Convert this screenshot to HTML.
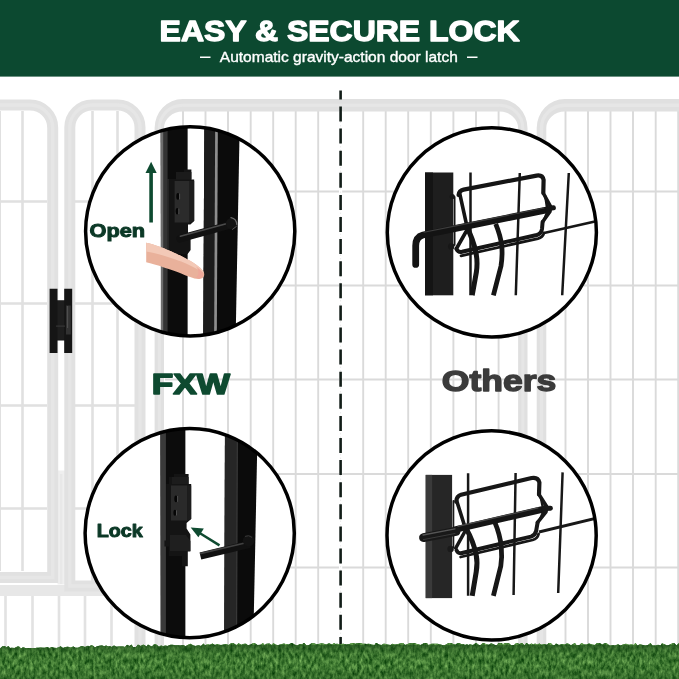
<!DOCTYPE html>
<html>
<head>
<meta charset="utf-8">
<title>Easy &amp; Secure Lock</title>
<style>
html,body{margin:0;padding:0;background:#fff;}
body{width:679px;height:679px;overflow:hidden;position:relative;font-family:"Liberation Sans",sans-serif;}
svg{position:absolute;left:0;top:0;display:block;}
text{font-family:"Liberation Sans",sans-serif;}
</style>
</head>
<body>
<svg width="679" height="679" viewBox="0 0 679 679">
<defs>
  <clipPath id="cTL"><circle cx="190.2" cy="231.3" r="104.6"/></clipPath>
  <clipPath id="cTR"><circle cx="491.85" cy="232.4" r="104.55"/></clipPath>
  <clipPath id="cBL"><circle cx="189.7" cy="533.1" r="104.6"/></clipPath>
  <clipPath id="cBR"><circle cx="491.6" cy="535.45" r="104.6"/></clipPath>
  <filter id="grassF" x="0" y="0" width="100%" height="100%" color-interpolation-filters="sRGB">
    <feTurbulence type="fractalNoise" baseFrequency="0.33 0.17" numOctaves="3" seed="11" result="n"/>
    <feColorMatrix type="matrix" values="0.62 0 0 0 -0.06  0.64 0 0 0 0.155  0.46 0 0 0 -0.035  0 0 0 0 1" in="n"/>
  </filter>
  <linearGradient id="grassShade" x1="0" y1="0" x2="0" y2="1">
    <stop offset="0" stop-color="#1c4a1a" stop-opacity="0.55"/>
    <stop offset="0.25" stop-color="#1c4a1a" stop-opacity="0.1"/>
    <stop offset="0.6" stop-color="#1c4a1a" stop-opacity="0"/>
    <stop offset="1" stop-color="#1c4a1a" stop-opacity="0.25"/>
  </linearGradient>
</defs>

<!-- ============ BACKGROUND ============ -->
<rect x="0" y="0" width="679" height="679" fill="#ffffff"/>

<!-- ============ FENCE ============ -->
<g id="fence" fill="none" stroke-linecap="butt">
  <!-- thin bars panel 1/2 -->
  <g stroke="#e0e0e0" stroke-width="2.6">
    <path d="M-0.3 111V571 M22.5 111V571 M92.5 111V582 M117.5 111V582"/>
    <path d="M0 201.5H47 M75 201.5H135 M0 303.5H47 M75 303.5H135 M0 405.5H47 M75 405.5H135 M0 508.5H47 M75 508.5H135"/>
  </g>
  <!-- thin bars lower back panel -->
  <g stroke="#e2e2e2" stroke-width="2.6">
    <path d="M5.5 595V648 M32.5 595V648 M59 595V648 M85 595V648 M111.5 595V648"/>
  </g>
  <!-- filler between posts -->
  <rect x="57.5" y="470.5" width="7.5" height="114" fill="#efefef" stroke="none"/>
  <rect x="59.8" y="474" width="2.6" height="110" fill="#e8e8e8" stroke="none"/>
  <!-- thin bars panel 3 -->
  <g stroke="#dadada" stroke-width="1.9">
    <path d="M183 111V648 M205.5 111V648 M228 111V648 M250.7 111V648 M273.2 111V648 M295.7 111V648 M318.2 111V648 M340.7 111V648 M363.2 111V648 M385.7 111V648 M408.2 111V648 M430.8 111V648 M453.4 111V648 M476 111V648 M498.6 111V648"/>
    <path d="M165 191.5H517 M165 285.5H517 M165 379.5H517 M165 474H517 M165 567.5H517"/>
  </g>
  <!-- thin bars panel 4 -->
  <g stroke="#dadada" stroke-width="1.9">
    <path d="M565.5 111V648 M588 111V648 M610.5 111V648 M633 111V648 M655.7 111V648 M678.2 111V648"/>
    <path d="M547 191.5H679 M547 285.5H679 M547 379.5H679 M547 474H679 M547 567.5H679"/>
  </g>
  <!-- lower back rail -->
  <rect x="0" y="585" width="140" height="11" fill="#e7e7e7" stroke="none"/>
  <!-- thick frames -->
  <g stroke="#e1e1e1" stroke-width="11" stroke-linejoin="miter">
    <path d="M-10 105H30A22.7 22.7 0 0 1 52.7 127.7V577.5H-10"/>
    <path d="M140 648V127.5A22.5 22.5 0 0 0 117.5 105H92.3A22.5 22.5 0 0 0 69.8 127.5V586H140"/>
  </g>
  <g fill="#e0e0e0" stroke="none">
    <path d="M154.6 648V128A28 29 0 0 1 182.6 99H499.5A28 29 0 0 1 527.5 128V648H518.1V128A18.6 16.4 0 0 0 499.5 111.6H182.6A18.6 16.4 0 0 0 164 128V648Z"/>
    <path d="M536.7 648V128A28 29 0 0 1 564.7 99H700V111.6H564.7A18.4 16.4 0 0 0 546.3 128V648Z"/>
  </g>
  <!-- tube highlight -->
  <g stroke="#e6e6e6" stroke-width="3.4" stroke-linejoin="miter">
    <path d="M-10 105H30A22.7 22.7 0 0 1 52.7 127.7V577.5H-10"/>
    <path d="M140 648V127.5A22.5 22.5 0 0 0 117.5 105H92.3A22.5 22.5 0 0 0 69.8 127.5V586H140"/>
    <path d="M159.3 648V128A23.3 22.8 0 0 1 182.6 105.2H499.5A23.3 22.8 0 0 1 522.8 128V648" stroke-width="3"/>
    <path d="M541.5 648V128A23.2 22.8 0 0 1 564.7 105.2H700" stroke-width="3.4"/>
  </g>
</g>

<!-- hinge -->
<g id="hinge">
  <path d="M49.6 288.7H57.5V300.2H64.2V288.7H72.2V352.9H64.2V340.6H57.5V352.9H49.6Z" fill="#151515"/>
  <rect x="57.5" y="301" width="6.7" height="38.8" fill="#1e1e1e"/>
  <rect x="66" y="305.5" width="4.8" height="29" fill="#323232"/>
  <rect x="67.2" y="306" width="0.9" height="22" fill="#565656"/>
  <rect x="56" y="325.6" width="9" height="1" fill="#3a3a3a"/>
</g>

<!-- dashed divider -->
<path d="M340.6 111V644" stroke="#ffffff" stroke-width="3.2" fill="none"/>
<path d="M340.6 111V644" stroke="#e4e4e4" stroke-width="0.8" stroke-dasharray="1.5 2" fill="none"/>
<path d="M340.6 90.6V644" stroke="#111c17" stroke-width="2.6" stroke-dasharray="15 7.1" stroke-dashoffset="6.2" fill="none"/>

<!-- ============ GRASS ============ -->
<g id="grass">
  <clipPath id="grassClip"><path d="M0 679V648.6L2.5 646.2L5.0 646.2L6.5 647.3L8.5 646.1L10.0 648.1L11.5 647.7L14.5 648.1L17.5 646.6L19.0 646.6L21.0 648.4L23.0 647.2L25.5 647.9L28.5 647.9L30.0 647.9L33.0 647.9L35.0 648.2L36.5 647.8L38.5 647.8L40.5 647.4L43.0 647.8L45.0 647.8L47.0 646.9L49.5 648.1L52.0 646.9L54.0 647.7L56.5 648.0L59.0 647.2L60.5 646.2L63.0 648.0L65.5 647.1L68.0 646.7L70.5 647.5L73.5 646.6L75.5 647.8L78.0 647.8L80.5 646.5L82.0 645.9L85.0 646.9L88.0 645.8L89.5 646.4L91.0 645.2L93.0 645.8L95.0 647.5L97.0 646.3L99.5 645.7L102.0 645.6L104.5 646.2L106.0 645.6L108.5 646.6L110.0 646.1L111.5 646.9L114.0 645.5L116.5 646.8L119.0 646.4L120.5 646.4L123.0 646.4L125.0 647.1L127.0 644.7L129.5 645.9L131.5 644.6L133.0 647.0L136.0 647.0L138.0 644.5L140.5 646.1L143.5 644.5L146.5 646.4L148.0 644.4L149.5 645.6L152.0 646.4L154.0 644.3L156.0 644.3L159.0 646.7L161.0 645.4L163.5 646.2L165.0 645.4L167.5 646.1L170.5 644.7L172.5 644.7L175.5 645.2L178.0 645.2L180.5 645.6L183.5 645.1L185.5 646.3L188.5 644.4L190.5 643.8L193.5 645.4L195.5 646.1L198.5 645.3L201.0 646.1L203.5 643.6L205.0 645.2L207.5 644.2L210.0 644.7L212.5 643.5L215.0 645.1L217.0 644.0L218.5 644.6L221.0 645.0L223.5 644.6L226.0 644.0L228.5 644.9L231.0 643.3L233.5 643.3L236.5 644.9L238.5 643.3L241.5 644.8L244.0 643.8L246.0 643.8L248.0 645.2L250.5 644.4L253.0 643.2L254.5 643.1L257.5 645.1L260.5 644.7L263.0 643.1L264.5 645.1L266.5 643.7L269.5 643.6L271.5 645.0L273.5 643.0L275.0 644.2L277.0 645.0L278.5 645.0L280.0 644.5L282.0 644.1L284.0 643.5L285.5 644.1L288.5 644.5L291.5 642.9L293.0 643.5L295.0 644.8L297.5 645.2L300.0 644.0L302.5 644.0L304.0 642.8L306.5 645.2L309.0 645.1L311.5 643.3L314.0 643.3L316.5 644.3L318.5 643.9L321.5 643.2L324.0 643.8L326.0 644.6L329.0 643.2L332.0 644.6L334.0 643.1L335.5 644.1L337.0 643.7L338.5 644.1L340.5 644.1L343.5 643.7L346.5 644.5L349.5 644.1L352.5 642.5L355.5 643.7L357.5 643.1L360.0 642.5L362.5 643.7L365.0 643.7L366.5 644.1L369.0 643.7L371.5 644.5L374.5 644.9L376.0 642.5L379.0 644.5L381.5 645.0L383.5 643.8L385.0 643.8L387.5 644.6L390.5 645.0L392.5 643.8L395.0 644.6L397.5 644.2L400.5 643.2L403.5 643.2L405.0 645.0L407.0 644.2L409.5 643.2L412.0 643.2L414.5 642.6L416.0 643.8L418.5 644.2L420.5 645.0L422.0 644.2L425.0 642.6L426.5 642.6L428.5 645.0L431.5 643.8L434.5 643.8L437.5 643.8L439.5 644.2L442.5 645.0L445.0 645.0L448.0 643.2L450.5 642.6L453.5 644.2L455.5 644.6L458.5 642.6L461.5 644.3L463.5 643.9L465.0 645.1L467.0 644.3L468.5 645.1L470.0 644.3L473.0 645.1L476.0 642.7L479.0 645.1L480.5 645.1L482.5 643.3L484.0 642.7L486.0 644.3L489.0 644.7L491.0 643.3L493.0 643.9L495.0 645.1L497.0 645.1L498.5 642.7L501.5 642.7L503.0 644.3L504.5 643.3L506.0 642.7L509.0 643.3L511.0 645.1L514.0 645.1L516.5 642.7L519.5 644.0L522.0 642.8L524.5 645.2L526.5 642.8L529.0 644.8L531.5 643.4L533.5 644.4L535.0 643.4L537.0 644.4L539.5 643.4L541.5 644.8L544.0 644.0L547.0 644.8L549.0 642.8L550.5 642.8L553.0 645.2L554.5 645.3L556.0 643.5L559.0 644.9L562.0 644.1L565.0 644.5L566.5 643.5L568.0 643.5L571.0 645.3L573.0 644.1L575.0 642.9L576.5 645.3L579.5 644.9L581.5 642.9L584.5 644.5L586.5 644.5L589.0 643.5L591.5 644.2L594.5 645.0L597.0 643.0L599.5 643.0L602.5 644.6L604.0 643.6L606.0 643.0L608.0 644.2L609.5 645.4L611.0 645.4L613.0 645.0L615.0 645.4L618.0 644.2L620.5 645.4L623.5 644.2L626.0 643.7L629.0 644.7L632.0 644.3L633.5 645.1L635.5 643.1L637.5 645.5L640.0 644.3L643.0 645.1L645.5 645.5L648.0 645.1L650.5 643.1L652.5 645.5L655.5 645.5L658.0 644.7L660.5 645.5L662.0 643.2L665.0 644.4L667.0 645.6L669.5 644.8L672.5 643.2L674.5 643.2L676.5 645.6L678.5 643.2L679.0 643.8V679Z"/></clipPath>
  <g clip-path="url(#grassClip)">
  <rect x="0" y="643" width="679" height="36" fill="#3a8035"/>
  <rect x="0" y="643" width="679" height="36" filter="url(#grassF)"/>
  <rect x="0" y="645" width="679" height="34" fill="url(#grassShade)"/>
  </g>
</g>

<!-- ============ CIRCLES ============ -->
<!-- TL -->
<circle cx="190.2" cy="231.3" r="104.6" fill="#ffffff"/>
<g clip-path="url(#cTL)">
  <!-- left post -->
  <path d="M160.6 120H187.6V340H161.2Z" fill="#0c0c0c"/>
  <rect x="160.8" y="120" width="2.8" height="220" fill="#6e6e6e"/>
  <rect x="163.6" y="120" width="4" height="220" fill="#333333"/>
  <!-- right post -->
  <path d="M204.4 120H239.8L235.6 340H203.2Z" fill="#0b0b0b"/>
  <path d="M204.4 120H215.2L214 340H203.2Z" fill="#1c1c1c"/>
  <path d="M215.2 120H217.9L216.8 340H214.1Z" fill="#8e8e8e"/>
  <!-- latch -->
  <path d="M168 179H176V172H184V169.6H191.4V179.6H194.2V221L190.4 224.5H188V232.5L190.6 236V250L187.6 254H168Z" fill="#141414"/>
  <path d="M174.6 181H189.6V222.6H174.6Z" fill="#2b2b2b"/>
  <path d="M189.6 181H194.2V221L189.6 222.6Z" fill="#1d1d1d"/>
  <path d="M176 172H191.4V179.6H176Z" fill="#1b1b1b"/>
  <ellipse cx="177.9" cy="196.4" rx="1.6" ry="3.3" fill="#050505"/>
  <ellipse cx="177.2" cy="211.2" rx="1.5" ry="3.2" fill="#050505"/>
  <path d="M179.6 193.6V199.4 M178.8 208.6V214" stroke="#5c5c5c" stroke-width="0.8" fill="none"/>
  <path d="M168 179V254" stroke="#2e2e2e" stroke-width="1.2" fill="none"/>
  <!-- pin -->
  <path d="M180 238.6L232 224.4" stroke="#111111" stroke-width="7.4" stroke-linecap="round" fill="none"/>
  <path d="M180.4 236.2L229 223" stroke="#4a4a4a" stroke-width="1.6" stroke-linecap="round" fill="none"/>
  <circle cx="231.4" cy="223.6" r="5.6" fill="#141414"/>
  <path d="M231 217.6Q236.6 218.6 236.8 224.6" stroke="#6a6a6a" stroke-width="1.3" stroke-linecap="round" fill="none"/>
  <path d="M232.5 229.4L236.4 226.4" stroke="#5a5a5a" stroke-width="1" stroke-linecap="round" fill="none"/>
  <!-- finger -->
  <path d="M146.2 242.7C152 243.5 170 250 181.2 256.1C190 260.5 198 265.5 201.8 269.5C205.5 273 205 277.5 200.5 278.7C196 280 188 276.5 181.2 273.6C172 270 156 264.5 146.2 262.3Z" fill="#e9b19b"/>
  <path d="M146.2 242.7C152 243.5 170 250 181.2 256.1C190 260.5 198 265.5 201.8 269.5C203 270.8 203.6 272 203.8 273C196 268 188 264.5 181.2 261.6C172 258 156 253 146.2 251.5Z" fill="#f3c9b7"/>
  <path d="M196 266.5C201 270 204 273 203 276C202 278.6 198 278.6 195 277.6C199 276.4 200 271 196 266.5Z" fill="#eea89a"/>
  <!-- arrow -->
  <path d="M151.1 222.6V172" stroke="#0e4a30" stroke-width="3.6" fill="none"/>
  <path d="M151.1 161.8L156.7 173H145.5Z" fill="#0e4a30"/>
</g>
<circle cx="190.2" cy="231.3" r="104.6" fill="none" stroke="#000" stroke-width="3.5"/>

<!-- TR -->
<circle cx="491.85" cy="232.4" r="104.55" fill="#ffffff"/>
<g clip-path="url(#cTR)" fill="none" stroke-linecap="round" stroke-linejoin="round">
  <rect x="425" y="172.5" width="28.3" height="122.8" fill="#1e1e1e"/>
  <rect x="425" y="172.5" width="8" height="122.8" fill="#141414"/>
  <g stroke="#161616" stroke-width="2.5" stroke-linecap="butt">
    <path d="M470.5 172.5V295.3 M519.8 173L515.8 295.3 M568.8 173L562.2 295.3"/>
    <path d="M544 233L596 221.2" stroke-width="2.7"/>
  </g>
  <!-- frame: top bar, right side, bottom bar -->
  <path d="M458.6 195Q459 190.6 463.6 189.6L536.6 175.6Q542.6 174.6 543.6 180L543.3 193" stroke="#151515" stroke-width="4.2"/>
  <path d="M542.6 222L542 229Q541.4 233.6 536.8 235L462 251.8Q458 252.6 456.4 249" stroke="#151515" stroke-width="4"/>
  <path d="M461 255.8L538 238.6Q542.6 237.4 544 233" stroke="#151515" stroke-width="2.8"/>
  <!-- left zig-zag side -->
  <path d="M459.6 193L467 226.6 M467 230L456.5 248.5" stroke="#151515" stroke-width="3.6"/>
  <path d="M454.6 197V245" stroke="#161616" stroke-width="1.8"/>
  <circle cx="452.2" cy="196.6" r="2.7" fill="#171717" stroke="none"/>
  <circle cx="451.2" cy="246.4" r="3.2" fill="#171717" stroke="none"/>
  <!-- hanging wires -->
  <path d="M465.6 224.5Q473.6 240 476 253Q477.8 262 476.4 272L472.2 295.3" stroke="#151515" stroke-width="5" stroke-linecap="butt"/>
  <path d="M495.7 223.9Q500.6 236 501.8 246Q502.6 256 501 266L493.4 295.3" stroke="#151515" stroke-width="4.8" stroke-linecap="butt"/>
  <!-- middle bar with hook -->
  <path d="M415.7 264.4V246Q415.6 237 423 235L455.7 228.3L546.4 210" stroke="#131313" stroke-width="6.8"/>
  <path d="M424 232.2L455.7 225.9L544 208" stroke="#3d3d3d" stroke-width="1.1"/>
  <!-- right pivot -->
  <path d="M543.5 193.5L550.6 206.6L550 211.4L542.7 221.8" stroke="#151515" stroke-width="3.6"/>
  <path d="M545.4 196.5L547.6 211L544.6 219" stroke="#151515" stroke-width="2.6"/>
  <path d="M548 208.6L553.4 207.8" stroke="#151515" stroke-width="5"/>
</g>
<circle cx="491.85" cy="232.4" r="104.55" fill="none" stroke="#000" stroke-width="3.5"/>

<!-- BL -->
<circle cx="189.7" cy="533.1" r="104.6" fill="#ffffff"/>
<g clip-path="url(#cBL)">
  <path d="M160.3 420H185.4V645H161Z" fill="#0c0c0c"/>
  <rect x="160.5" y="420" width="5.4" height="225" fill="#3a3a3a"/>
  <path d="M225 420H257.8L253.2 645H224.2Z" fill="#0b0b0b"/>
  <path d="M225 420H237.4L236.6 645H224.2Z" fill="#262626"/>
  <path d="M237.4 420L236.6 645" stroke="#3f3f3f" stroke-width="1" fill="none"/>
  <!-- latch -->
  <path d="M166.2 484H169V477H174V474H188.6V484H191.2V519L186.6 523V528.5L190.4 534.5V551.4H187.8V566.2H182V556H168.8V546.4H164.4V540.4H166.2Z" fill="#141414"/>
  <path d="M171 485.4H187.4V520.6H171Z" fill="#2a2a2a"/>
  <path d="M187.4 485.4H191.2V519L187.4 520.6Z" fill="#1d1d1d"/>
  <path d="M172 477H188.6V484H172Z" fill="#1c1c1c"/>
  <ellipse cx="175.9" cy="498.8" rx="1.6" ry="3.4" fill="#050505"/>
  <ellipse cx="174.9" cy="512.8" rx="1.5" ry="3" fill="#050505"/>
  <path d="M177.6 496V501.8 M176.5 510.4V515.4" stroke="#5c5c5c" stroke-width="0.8" fill="none"/>
  <path d="M170 535L186 535L190.4 541V551H170Z" fill="#1f1f1f"/>
  <!-- pin -->
  <path d="M200.4 556L250 544.2" stroke="#111111" stroke-width="7.4" stroke-linecap="butt" fill="none"/>
  <path d="M200 553.6L246 542.7" stroke="#414141" stroke-width="1.6" stroke-linecap="butt" fill="none"/>
  <circle cx="248.6" cy="540.6" r="5.8" fill="#131313"/>
  <path d="M245 536.4Q249 534.6 252 537.4" stroke="#3a3a3a" stroke-width="1" fill="none"/>
  <!-- arrow -->
  <path d="M219.5 545.4L198 532" stroke="#0e4a30" stroke-width="2.5" fill="none"/>
  <path d="M190.7 527.4L203.8 528.6L198.4 537.2Z" fill="#0e4a30"/>
</g>
<circle cx="189.7" cy="533.1" r="104.6" fill="none" stroke="#000" stroke-width="3.5"/>

<!-- BR -->
<circle cx="491.6" cy="535.45" r="104.6" fill="#ffffff"/>
<g clip-path="url(#cBR)" fill="none" stroke-linecap="round" stroke-linejoin="round">
  <rect x="425.7" y="474.9" width="26.4" height="123.2" fill="#262626"/>
  <rect x="425.7" y="474.9" width="6.4" height="123.2" fill="#3a3a3a"/>
  <g stroke="#181818" stroke-width="2.5" stroke-linecap="butt">
    <path d="M468.1 473.2V595.8 M515.6 473L513.6 595 M562.6 472.4L558.2 593"/>
    <path d="M539 532L598 517.8" stroke-width="3"/>
  </g>
  <!-- frame -->
  <path d="M456.2 501.6Q456.6 496 461 494.8L531.6 478Q538 476.8 539.4 482.4L539 494.5" stroke="#171717" stroke-width="4.2"/>
  <path d="M537.6 522.6L536.2 530.6Q535.4 535 531 536.6L462 553Q458 554 456.6 550.4" stroke="#171717" stroke-width="4"/>
  <path d="M460.6 557L532.6 540Q537.6 538.6 538.6 534" stroke="#171717" stroke-width="2.8"/>
  <path d="M456.6 500.6L465.2 527.8 M465.2 531L455.8 548" stroke="#171717" stroke-width="3.6"/>
  <path d="M453.4 501V547.4" stroke="#1a1a1a" stroke-width="1.8"/>
  <circle cx="450.6" cy="549" r="3.2" fill="#1a1a1a" stroke="none"/>
  <!-- hanging wires -->
  <path d="M465.6 527.4Q473.8 542 476.2 555Q477.8 563 476.2 572L472.2 595.8" stroke="#171717" stroke-width="5" stroke-linecap="butt"/>
  <path d="M494.6 521.6Q500.2 535 501.3 547Q502.2 557 500.8 566L493.4 595.8" stroke="#171717" stroke-width="4.8" stroke-linecap="butt"/>
  <!-- middle bar -->
  <path d="M455 529.6L541 509.7" stroke="#151515" stroke-width="6.6"/>
  <path d="M423.6 537.6L456 531.4" stroke="#181818" stroke-width="9"/>
  <path d="M423 535L455 528.8" stroke="#555555" stroke-width="1.3"/>
  <path d="M423.4 539.6L455 533.5" stroke="#3a3a3a" stroke-width="1"/>
  <path d="M458 526.4L538 507.9" stroke="#4a4a4a" stroke-width="1.2"/>
  <!-- right pivot -->
  <path d="M539 494.5L546.8 506.8L546 511.8L537.6 522.4" stroke="#171717" stroke-width="3.6"/>
  <path d="M541 498L543.6 511L540 519.6" stroke="#171717" stroke-width="2.6"/>
  <path d="M544.6 508.6L550.4 508.2" stroke="#171717" stroke-width="5"/>
</g>
<circle cx="491.6" cy="535.45" r="104.6" fill="none" stroke="#000" stroke-width="3.5"/>

<!-- ============ HEADER ============ -->
<rect x="0" y="0" width="679" height="76.6" fill="#0c4930"/>
<g opacity="0.999">
<text x="339.6" y="41.3" text-anchor="middle" font-size="29.2" font-weight="700" fill="#ffffff" stroke="#ffffff" stroke-width="1.3" stroke-linejoin="round" textLength="360" lengthAdjust="spacingAndGlyphs">EASY &amp; SECURE LOCK</text>
<text x="338.8" y="62.3" text-anchor="middle" font-size="14.5" fill="#ffffff" stroke="#ffffff" stroke-width="0.35" textLength="238" lengthAdjust="spacingAndGlyphs">Automatic gravity-action door latch</text>
</g>
<path d="M200 57.2H210.5 M467 57.2H477.5" stroke="#fff" stroke-width="1.5" fill="none"/>

<!-- ============ LABELS ============ -->
<g font-weight="700" stroke-linejoin="round" opacity="0.999">
<text x="89.5" y="236.9" font-size="18.6" fill="#0b3826" stroke="#0b3826" stroke-width="1" textLength="55.6" lengthAdjust="spacingAndGlyphs">Open</text>
<text x="96.7" y="536.9" font-size="17.9" fill="#0b3826" stroke="#0b3826" stroke-width="1" textLength="46" lengthAdjust="spacingAndGlyphs">Lock</text>
<text x="151.8" y="394.2" font-size="30" fill="#0e4a30" stroke="#0e4a30" stroke-width="1.6" textLength="78.2" lengthAdjust="spacingAndGlyphs">FXW</text>
<text x="441.8" y="391" font-size="30.2" fill="#3b3b3b" stroke="#3b3b3b" stroke-width="1.4" textLength="114.6" lengthAdjust="spacingAndGlyphs">Others</text>
</g>
</svg>
</body>
</html>
